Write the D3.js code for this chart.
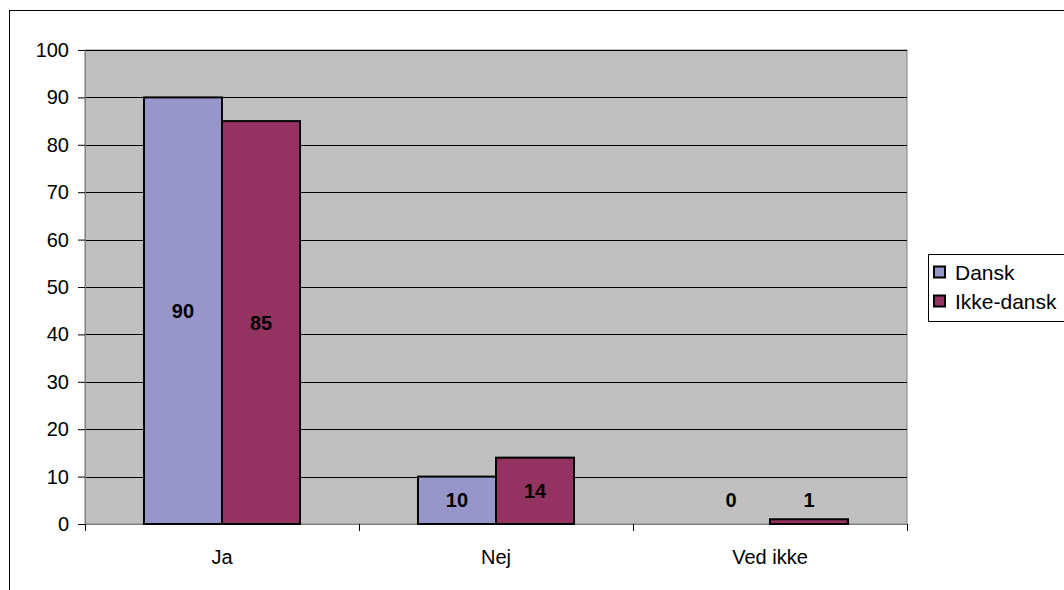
<!DOCTYPE html>
<html><head><meta charset="utf-8">
<script src="https://cdn.jsdelivr.net/npm/d3@7"></script>
<style>body{margin:0;background:#fff}svg{display:block;font-family:"Liberation Sans",Arial,sans-serif}</style>
</head><body>
<script>
const categories = ["Ja", "Nej", "Ved ikke"];
const seriesNames = ["Dansk", "Ikke-dansk"];
const dansk = [90, 10, 0];
const ikkeDansk = [85, 14, 1];
const yTicks = [0, 10, 20, 30, 40, 50, 60, 70, 80, 90, 100];
const colors = ["#9696CA", "#943361"];

const W = 1064, H = 590;
const FONT = "Liberation Sans, Arial, sans-serif";
const svg = d3.select("body").append("svg").attr("width", W).attr("height", H);
svg.append("rect").attr("x", 9.5).attr("y", 10.5).attr("width", 1200).attr("height", 800)
  .attr("fill", "#fff").attr("stroke", "#000").attr("stroke-width", 1);

const L = 85, R = 907, T = 50, B = 524;
const x = d3.scaleBand().domain(categories).range([L, R]);
const y = d3.scaleLinear().domain([0, 100]).range([B, T]);
const inner = d3.scaleBand().domain(seriesNames).range([0, x.bandwidth()]).paddingOuter(0.756).paddingInner(0);

svg.append("rect").attr("x", L).attr("y", T).attr("width", R - L).attr("height", B - T)
  .attr("fill", "#C0C0C0").attr("stroke", "#808080").attr("stroke-width", 1);

const grid = svg.append("g");
yTicks.filter(t => t > 0).forEach(t => {
  grid.append("line").attr("x1", L).attr("x2", R).attr("y1", Math.round(y(t)) + 0.5).attr("y2", Math.round(y(t)) + 0.5)
    .attr("stroke", "#000").attr("stroke-width", 1);
});

const yAxis = d3.axisLeft(y).tickValues(yTicks).tickSize(7).tickPadding(9);
const gy = svg.append("g").attr("transform", `translate(${L},0)`).call(yAxis);
gy.select(".domain").attr("stroke", "#808080");
gy.selectAll("line").attr("stroke", "#000");
gy.selectAll("text").attr("font-size", 20).attr("fill", "#000").attr("font-family", FONT);

const xAxis = d3.axisBottom(x).tickSize(0).tickPadding(26);
const gx = svg.append("g").attr("transform", `translate(0,${B})`).call(xAxis);
gx.select(".domain").attr("stroke", "#808080");
gx.selectAll("text").attr("font-size", 20).attr("fill", "#000").attr("font-family", FONT);
const bounds = [...categories.map(c => x(c)), R];
bounds.forEach(b => {
  svg.append("line").attr("x1", Math.round(b) + 0.5).attr("x2", Math.round(b) + 0.5).attr("y1", B).attr("y2", B + 7).attr("stroke", "#000");
});

const series = [dansk, ikkeDansk];
const bars = svg.append("g");
const labels = svg.append("g");
series.forEach((vals, si) => {
  vals.forEach((v, ci) => {
    const bx = x(categories[ci]) + inner(seriesNames[si]);
    if (v > 0) {
      bars.append("rect").attr("x", bx).attr("y", y(v)).attr("width", inner.bandwidth()).attr("height", y(0) - y(v))
        .attr("fill", colors[si]).attr("stroke", "#000").attr("stroke-width", 2);
    }
    const ly = Math.min((y(v) + y(0)) / 2, y(0) - 24);
    labels.append("text").attr("x", bx + inner.bandwidth() / 2).attr("y", ly).attr("dy", "0.36em")
      .attr("text-anchor", "middle").attr("font-size", 20).attr("font-weight", "bold").attr("font-family", FONT).text(v);
  });
});

const lg = svg.append("g");
lg.append("rect").attr("x", 928.5).attr("y", 254.5).attr("width", 140).attr("height", 67)
  .attr("fill", "#fff").attr("stroke", "#000");
seriesNames.forEach((n, i) => {
  const cy = 272 + i * 29;
  lg.append("rect").attr("x", 934).attr("y", cy - 5.5).attr("width", 11).attr("height", 11)
    .attr("fill", colors[i]).attr("stroke", "#000").attr("stroke-width", 2);
  lg.append("text").attr("x", 955).attr("y", cy).attr("dy", "0.36em").attr("font-size", 21).attr("font-family", FONT).text(n);
});
</script>
</body></html>
